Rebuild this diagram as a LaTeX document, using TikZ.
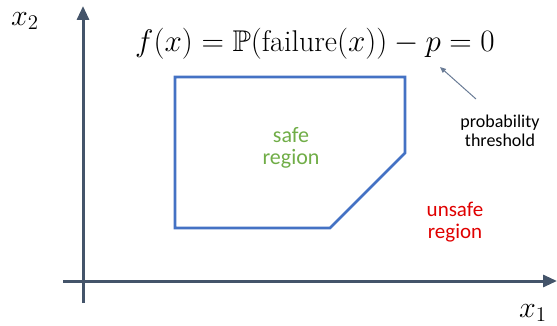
\documentclass[tikz,border=0pt]{standalone}
\usepackage{amssymb}
\usepackage{fontspec}
\newfontfamily\carl{Carlito}
\usetikzlibrary{arrows.meta}
\definecolor{axiscol}{HTML}{44546A}
\definecolor{boxcol}{HTML}{4472C4}
\definecolor{safecol}{HTML}{70AD47}
\definecolor{unsafecol}{HTML}{E00000}
\definecolor{pointcol}{HTML}{6A7C96}
\tikzset{
  axis/.style={draw=axiscol, line width=3pt, -{Triangle[length=14pt,width=12pt]}},
  region/.style={draw=boxcol, line width=2.6pt, line join=miter},
  lbl/.style={font=\carl, align=center, inner sep=0pt},
}
\begin{document}
\begin{tikzpicture}[x=1pt,y=-1pt]
\useasboundingbox (0,0) rectangle (557,326);
\coordinate (yb) at (83,303);
\coordinate (yt) at (83,6);
\coordinate (xl) at (63,281);
\coordinate (xr) at (557,281);
\draw[axis] (yb) -- (yt);
\draw[axis] (xl) -- (xr);
\node[inner sep=0pt] (x2) at (25,21) {\scalebox{1.45}{\fontsize{20}{24}\selectfont $x_2$}};
\node[inner sep=0pt] (x1) at (533,313) {\scalebox{1.45}{\fontsize{20}{24}\selectfont $x_1$}};
\coordinate (p1) at (175,77);
\coordinate (p2) at (405,77);
\coordinate (p3) at (405,153);
\coordinate (p4) at (330,228);
\coordinate (p5) at (175,228);
\draw[region] (p1) -- (p2) -- (p3) -- (p4) -- (p5) -- cycle;
\node[inner sep=0pt] (eq) at (315,44) {\scalebox{1.5}{\fontsize{20}{24}\selectfont $f(x)=\mathbb{P}(\mathrm{failure}(x))-p=0$}};
\node[lbl, font=\carl\fontsize{18}{19}\selectfont] (thr) at (500,131) {probability\\threshold};
\coordinate (tip) at (440,67);
\draw[draw=pointcol, line width=1pt, -{Triangle[length=6pt,width=5pt]}] (476,99) -- (tip);
\node[lbl, text=safecol, font=\carl\fontsize{22}{22}\selectfont] (safe) at (291,148) {safe\\region};
\node[lbl, text=unsafecol, font=\carl\fontsize{21}{22}\selectfont] (unsafe) at (455,222) {unsafe\\region};
\end{tikzpicture}
\end{document}
